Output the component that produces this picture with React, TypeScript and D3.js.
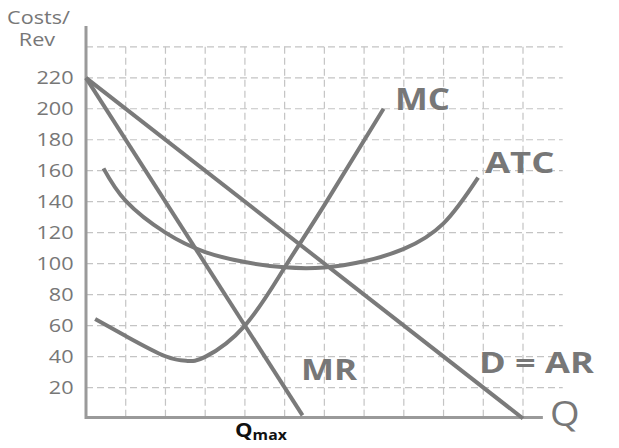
import React from "react";
import * as d3 from "d3";

const yTicks = [20, 40, 60, 80, 100, 120, 140, 160, 180, 200, 220];
const yGrid = [20, 40, 60, 80, 100, 120, 140, 160, 180, 200, 220, 240];
const xGrid = [1, 2, 3, 4, 5, 6, 7, 8, 9, 10, 11];

const demandQ = [0, 11];
const demandP = [220, 0];
const mrQ = [0, 5.45];
const mrP = [220, 2];
const mcQ = [0.23, 1, 2, 2.55, 3, 4, 5, 6, 7.49];
const mcP = [64.2, 53.3, 40.2, 37.2, 39.8, 60, 97.5, 137.8, 200];
const atcQ = [0.44, 1, 2, 3, 4, 5, 6, 7, 8, 9, 9.87];
const atcP = [161.5, 140.5, 120, 107.5, 101, 97.6, 97.5, 101.5, 109.5, 126, 155.5];

const W = 619;
const H = 448;

export default function App() {
  const x = d3.scaleLinear().domain([0, 11]).range([86, 523]);
  const y = d3.scaleLinear().domain([0, 220]).range([418.5, 77.8]);
  const line = d3
    .line<[number, number]>()
    .x((d) => x(d[0]))
    .y((d) => y(d[1]))
    .curve(d3.curveNatural);
  const straight = d3
    .line<[number, number]>()
    .x((d) => x(d[0]))
    .y((d) => y(d[1]));
  const zip = (a: number[], b: number[]) => a.map((v, i) => [v, b[i]] as [number, number]);
  const curveColor = "#7a7a7a";
  const gridColor = "#c4c4c4";
  const labelColor = "#777";
  const font = "'Open Sans', sans-serif";
  const axisY = y(0) - 1;
  const lab = (tx: number, ty: number, sx: number, size: number, text: string, key: string) => (
    <g key={key} transform={`translate(${tx},${ty}) scale(${sx},1)`}>
      <text x={0} y={0} fontFamily={font} fontWeight="bold" fontSize={size} fill={labelColor}>
        {text}
      </text>
    </g>
  );
  return (
    <svg width={W} height={H} style={{ position: "absolute", left: 0, top: 0, background: "#fff" }}>
      {yGrid.map((v) => (
        <line key={"h" + v} x1={x(0)} x2={x(12)} y1={y(v)} y2={y(v)} stroke={gridColor} strokeWidth={1.2} strokeDasharray="7 4" />
      ))}
      {xGrid.map((v) => (
        <line key={"v" + v} x1={x(v)} x2={x(v)} y1={y(240)} y2={axisY} stroke={gridColor} strokeWidth={1.2} strokeDasharray="7 4" />
      ))}
      <line x1={x(0)} x2={x(0)} y1={26} y2={axisY + 1.5} stroke="#9a9a9a" strokeWidth={3} />
      <line x1={x(0)} x2={x(11.5)} y1={axisY} y2={axisY} stroke="#9a9a9a" strokeWidth={3} />
      {yTicks.map((v) => (
        <g key={"t" + v} transform={`translate(73.5,${y(v)}) scale(1.25,1)`}>
          <text x={0} y={0} dy="0.36em" textAnchor="end" fontFamily={font} fontSize={17.3} fill={labelColor}>
            {v}
          </text>
        </g>
      ))}
      <g transform="translate(38.5,24) scale(1.25,1)">
        <text x={0} y={0} textAnchor="middle" fontFamily={font} fontSize={17.3} fill={labelColor}>Costs/</text>
      </g>
      <g transform="translate(37,46) scale(1.25,1)">
        <text x={0} y={0} textAnchor="middle" fontFamily={font} fontSize={17.3} fill={labelColor}>Rev</text>
      </g>
      <path d={line(zip(atcQ, atcP)) || ""} fill="none" stroke={curveColor} strokeWidth={4} />
      <path d={line(zip(mcQ, mcP)) || ""} fill="none" stroke={curveColor} strokeWidth={4} />
      <path d={straight(zip(demandQ, demandP)) || ""} fill="none" stroke={curveColor} strokeWidth={4} />
      <path d={straight(zip(mrQ, mrP)) || ""} fill="none" stroke={curveColor} strokeWidth={4} />
      {lab(395, 110, 1.16, 30, "MC", "mc")}
      {lab(485, 173, 1.3, 28, "ATC", "atc")}
      {lab(301, 380, 1.25, 28, "MR", "mr")}
      {lab(479, 373, 1.29, 28, "D = AR", "dar")}
      <g transform="translate(550,426) scale(1.12,1)">
        <text x={0} y={0} fontFamily={font} fontSize={34} fill={labelColor}>Q</text>
      </g>
      <g transform="translate(235,437) scale(1.13,1)">
        <text x={0} y={0} fontFamily={font} fontWeight="bold" fontSize={19.6} fill="#111">
          Q<tspan fontSize={14} dy={3}>max</tspan>
        </text>
      </g>
    </svg>
  );
}
